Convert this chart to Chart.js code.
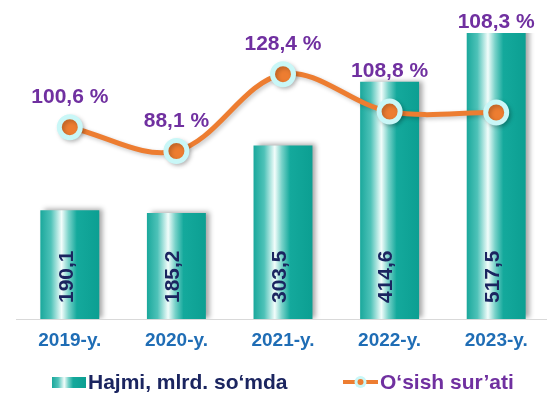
<!DOCTYPE html>
<html>
<head>
<meta charset="utf-8">
<script src="https://cdn.jsdelivr.net/npm/chart.js@4/dist/chart.umd.min.js"></script>
<style>
html,body{margin:0;padding:0;background:#fff;overflow:hidden;width:547px;height:399px}
canvas{display:block}
</style>
</head>
<body>
<canvas id="c" width="550" height="399" style="width:550px;height:399px"></canvas>
<script>
// ---- data ----
const categories = ['2019-y.', '2020-y.', '2021-y.', '2022-y.', '2023-y.'];
const volumeValues = [190.1, 185.2, 303.5, 414.6, 517.5];
const growthValues = [100.6, 88.1, 128.4, 108.8, 108.3];
const seriesNames = ['Hajmi, mlrd. so‘mda', 'O‘sish sur’ati'];

const fmt = v => v.toFixed(1).replace('.', ',');

// ---- style ----
const FONT = "'Liberation Sans', Arial, sans-serif";
const BAR_PCT = 0.553;
const ORANGE = '#ED7D31';
const CYAN = '#C9F7F7';
const PURPLE = '#7030A0';
const NAVY = '#1B2560';
const BLUE = '#1F6DB5';

function tealGradient(ctx, x0, x1) {
  const g = ctx.createLinearGradient(x0, 0, x1, 0);
  g.addColorStop(0, '#1AA89C');
  g.addColorStop(0.18, '#4EC2B8');
  g.addColorStop(0.36, '#F2FDFB');
  g.addColorStop(0.48, '#78D2C9');
  g.addColorStop(0.62, '#14A99C');
  g.addColorStop(1, '#0C9F92');
  return g;
}

const shadowPlugin = {
  id: 'shadows',
  beforeDatasetDraw(chart, args) {
    const ctx = chart.ctx;
    ctx.save();
    const type = chart.getDatasetMeta(args.index).type;
    if (type === 'bar') {
      ctx.shadowColor = 'rgba(0,0,0,0.35)';
      ctx.shadowBlur = 5;
      ctx.shadowOffsetX = 4;
      ctx.shadowOffsetY = -1;
    } else {
      ctx.shadowColor = 'rgba(0,0,0,0.22)';
      ctx.shadowBlur = 4;
      ctx.shadowOffsetX = 2;
      ctx.shadowOffsetY = 2;
    }
  },
  afterDatasetDraw(chart) {
    chart.ctx.restore();
  }
};

const labelPlugin = {
  id: 'valueLabels',
  afterDatasetsDraw(chart) {
    const ctx = chart.ctx;
    const area = chart.chartArea;
    const barMeta = chart.getDatasetMeta(0);
    const lineMeta = chart.getDatasetMeta(1);
    // bar labels (rotated)
    ctx.save();
    ctx.font = 'bold 21px ' + FONT;
    ctx.fillStyle = NAVY;
    ctx.textAlign = 'left';
    ctx.textBaseline = 'middle';
    barMeta.data.forEach((el, i) => {
      ctx.save();
      ctx.translate(el.x, el.base - 16);
      ctx.rotate(-Math.PI / 2);
      ctx.fillText(fmt(volumeValues[i]), 0, -3);
      ctx.restore();
    });
    ctx.restore();
    // percent labels
    ctx.save();
    ctx.font = 'bold 21px ' + FONT;
    ctx.fillStyle = PURPLE;
    ctx.textAlign = 'center';
    ctx.textBaseline = 'middle';
    lineMeta.data.forEach((pt, i) => {
      const barTop = Math.max(barMeta.data[i].y, area.top);
      const y = Math.min(pt.y - 30, barTop - 11);
      ctx.fillText(fmt(growthValues[i]) + ' %', pt.x, y);
    });
    ctx.restore();
  },
  afterDraw(chart) {
    // legend
    const ctx = chart.ctx;
    const cy = 382;
    ctx.save();
    ctx.fillStyle = tealGradient(ctx, 52, 86);
    ctx.fillRect(52, cy - 5, 34, 11);
    ctx.font = 'bold 21px ' + FONT;
    ctx.textBaseline = 'middle';
    ctx.textAlign = 'left';
    ctx.fillStyle = NAVY;
    ctx.fillText(seriesNames[0], 88, cy + 1);
    // line marker
    ctx.strokeStyle = ORANGE;
    ctx.lineWidth = 4;
    ctx.beginPath();
    ctx.moveTo(343, cy);
    ctx.lineTo(378, cy);
    ctx.stroke();
    ctx.fillStyle = CYAN;
    ctx.beginPath();
    ctx.arc(360.5, cy, 6, 0, Math.PI * 2);
    ctx.fill();
    ctx.fillStyle = ORANGE;
    ctx.beginPath();
    ctx.arc(360.5, cy, 3, 0, Math.PI * 2);
    ctx.fill();
    ctx.fillStyle = PURPLE;
    ctx.fillText(seriesNames[1], 380, cy + 1);
    ctx.restore();
  }
};

new Chart(document.getElementById('c'), {
  data: {
    labels: categories,
    datasets: [
      {
        type: 'bar',
        label: seriesNames[0],
        data: volumeValues,
        yAxisID: 'y',
        order: 2,
        barPercentage: BAR_PCT,
        categoryPercentage: 1,
        borderWidth: 0,
        backgroundColor: (c) => {
          const chart = c.chart;
          const xs = chart.scales && chart.scales.x;
          if (c.type !== 'data' || !xs || !chart.chartArea) return '#14A89B';
          const cx = xs.getPixelForValue(c.dataIndex);
          const w = xs.width / categories.length * BAR_PCT;
          return tealGradient(chart.ctx, cx - w / 2, cx + w / 2);
        }
      },
      {
        type: 'line',
        label: seriesNames[1],
        data: growthValues,
        yAxisID: 'y2',
        order: 1,
        borderColor: ORANGE,
        borderWidth: 5,
        tension: 0.35,
        pointRadius: 10.5,
        pointHoverRadius: 10.5,
        pointBorderWidth: 5,
        pointBackgroundColor: ORANGE,
        pointBorderColor: CYAN,
        clip: false
      }
    ]
  },
  options: {
    responsive: false,
    animation: false,
    devicePixelRatio: 1,
    layout: { autoPadding: false, padding: { left: 16.5, right: 0.5, top: 33, bottom: 47 } },
    plugins: {
      legend: { display: false },
      tooltip: { enabled: false }
    },
    scales: {
      x: {
        grid: { display: false, drawTicks: false },
        border: { display: true, color: '#D9D9D9', width: 1 },
        ticks: {
          color: BLUE,
          font: { family: FONT, size: 19, weight: 'bold' },
          padding: 10,
          maxRotation: 0
        },
        afterFit: (s) => { s.height = 33; s.paddingLeft = 0; s.paddingRight = 0; }
      },
      y: { display: false, min: 0, max: 500 },
      y2: { display: false, min: 0, max: 150, position: 'right' }
    }
  },
  plugins: [shadowPlugin, labelPlugin]
});
</script>
</body>
</html>
